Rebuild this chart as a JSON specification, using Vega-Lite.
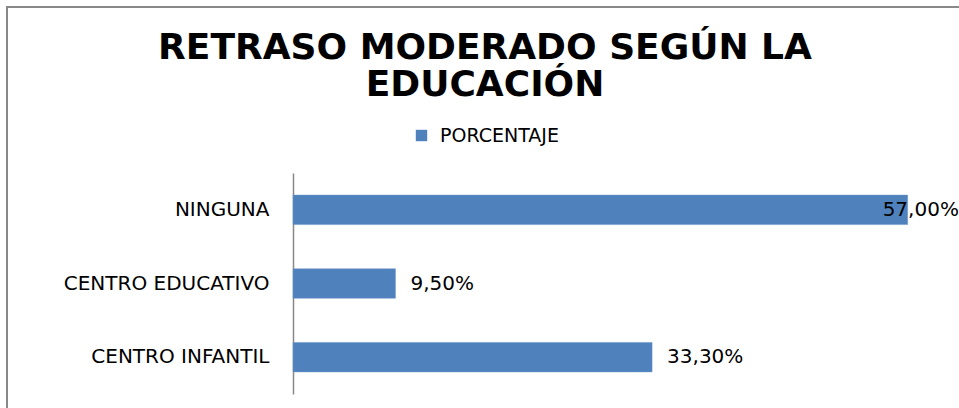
{
  "$schema": "https://vega.github.io/schema/vega-lite/v6.json",
  "width": 956,
  "height": 405,
  "autosize": "none",
  "padding": {"left": 7, "top": 7, "right": 0, "bottom": 0},
  "background": "white",
  "config": {
    "view": {"stroke": "#898989", "strokeWidth": 2},
    "locale": {"number": {"decimal": ",", "thousands": ".", "grouping": [3], "currency": ["", " €"]}}
  },
  "title": {
    "text": ["RETRASO MODERADO SEGÚN LA", "EDUCACIÓN"],
    "font": "DejaVu Sans",
    "fontSize": 36,
    "fontWeight": "bold",
    "color": "#000000",
    "anchor": "middle",
    "frame": "group",
    "lineHeight": 37,
    "offset": -97
  },
  "data": {
    "values": [
      {"educacion": "NINGUNA", "porcentaje": 0.57},
      {"educacion": "CENTRO EDUCATIVO", "porcentaje": 0.095},
      {"educacion": "CENTRO INFANTIL", "porcentaje": 0.333}
    ]
  },
  "encoding": {
    "y": {
      "field": "educacion",
      "type": "nominal",
      "sort": ["NINGUNA", "CENTRO EDUCATIVO", "CENTRO INFANTIL"],
      "scale": {"range": [166, 387], "paddingInner": 0.6, "paddingOuter": 0.3},
      "axis": {
        "title": null,
        "orient": "left",
        "offset": -286,
        "ticks": false,
        "domainColor": "#888888",
        "domainWidth": 1.5,
        "labelPadding": 24,
        "labelLimit": 400,
        "labelExpr": "datum.value == 'CENTRO EDUCATIVO' ? datum.value + '\u00a0\u00a0' : datum.value",
        "labelFont": "DejaVu Sans",
        "labelFontSize": 20,
        "labelColor": "#000000"
      }
    },
    "x": {
      "field": "porcentaje",
      "type": "quantitative",
      "scale": {"domain": [0, 0.6], "range": [286, 933]},
      "axis": null
    }
  },
  "layer": [
    {
      "mark": {"type": "bar", "stroke": "#6d95c9", "strokeWidth": 0.5},
      "encoding": {
        "color": {
          "datum": "PORCENTAJE",
          "scale": {"range": ["#4F81BD"]},
          "legend": {
            "title": null,
            "orient": "none",
            "legendX": 405,
            "legendY": 119,
            "padding": 0,
            "symbolType": "square",
            "symbolSize": 130,
            "symbolStrokeWidth": 0,
            "labelFont": "DejaVu Sans",
            "labelFontSize": 19,
            "labelColor": "#000000",
            "labelOffset": 9
          }
        }
      }
    },
    {
      "transform": [{"filter": "datum.porcentaje < 0.5"}],
      "mark": {"type": "text", "align": "left", "dx": 15, "font": "DejaVu Sans", "fontSize": 20, "color": "#000000"},
      "encoding": {"text": {"field": "porcentaje", "type": "quantitative", "format": ".2%"}}
    },
    {
      "transform": [{"filter": "datum.porcentaje >= 0.5"}],
      "mark": {"type": "text", "align": "left", "dx": -25, "font": "DejaVu Sans", "fontSize": 20, "color": "#000000"},
      "encoding": {"text": {"field": "porcentaje", "type": "quantitative", "format": ".2%"}}
    }
  ]
}
